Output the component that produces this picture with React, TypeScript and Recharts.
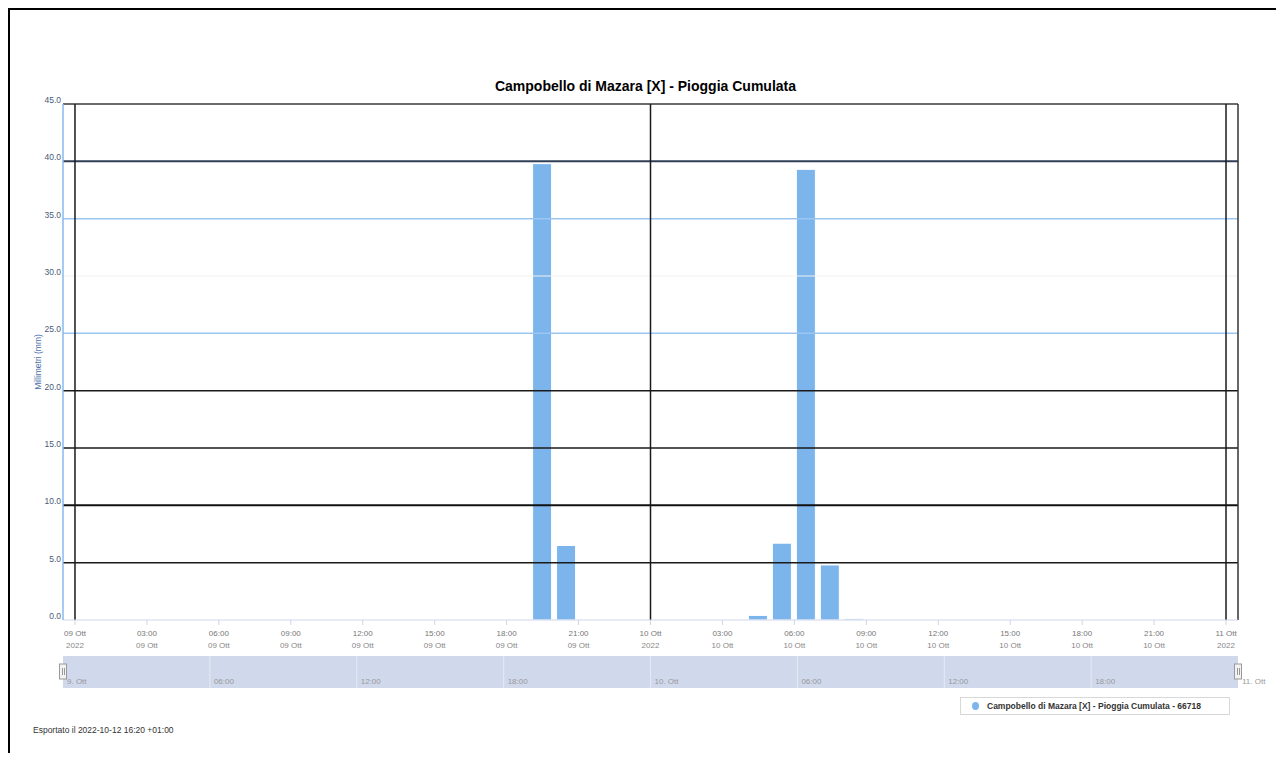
import React from 'react';
import {
  ComposedChart,
  Bar,
  Line,
  XAxis,
  YAxis,
  ReferenceLine,
  ReferenceArea,
  ReferenceDot,
} from 'recharts';

// ---- data ----
const chartTitle = 'Campobello di Mazara [X] - Pioggia Cumulata';
const seriesName = 'Campobello di Mazara [X] - Pioggia Cumulata - 66718';
const yAxisTitle = 'Millimetri (mm)';
const exportNote = 'Esportato il 2022-10-12 16:20 +01:00';

// hour offsets from 09 Ott 2022 00:00 (one bar per hour)
const hourStart = [
  0, 1, 2, 3, 4, 5, 6, 7, 8, 9, 10, 11, 12, 13, 14, 15, 16, 17, 18, 19, 20, 21, 22, 23,
  24, 25, 26, 27, 28, 29, 30, 31, 32, 33, 34, 35, 36, 37, 38, 39, 40, 41, 42, 43, 44, 45, 46, 47,
];
// cumulated rain (mm) per hour
const rainMm = [
  0, 0, 0, 0, 0, 0, 0, 0, 0, 0, 0, 0, 0, 0, 0, 0, 0, 0, 0, 39.8, 6.5, 0, 0, 0,
  0, 0, 0, 0, 0.4, 6.7, 39.3, 4.8, 0.1, 0, 0, 0, 0, 0, 0, 0, 0, 0, 0, 0, 0, 0, 0, 0,
];

const yTicks = [0, 5, 10, 15, 20, 25, 30, 35, 40, 45];
const xTicks = [0, 3, 6, 9, 12, 15, 18, 21, 24, 27, 30, 33, 36, 39, 42, 45, 48];
const xTickMain = [
  '09 Ott', '03:00', '06:00', '09:00', '12:00', '15:00', '18:00', '21:00',
  '10 Ott', '03:00', '06:00', '09:00', '12:00', '15:00', '18:00', '21:00', '11 Ott',
];
const xTickSub = [
  '2022', '09 Ott', '09 Ott', '09 Ott', '09 Ott', '09 Ott', '09 Ott', '09 Ott',
  '2022', '10 Ott', '10 Ott', '10 Ott', '10 Ott', '10 Ott', '10 Ott', '10 Ott', '2022',
];
const dayLines = [0, 24, 48];
const navTicks = [0, 6, 12, 18, 24, 30, 36, 42, 48];
const navLabels = ['9. Ott', '06:00', '12:00', '18:00', '10. Ott', '06:00', '12:00', '18:00', '11. Ott'];

const data = hourStart.map((h, i) => ({ x: h + 0.5, rain: rainMm[i] }));
const navData = hourStart.map((h) => ({ x: h + 0.5, v: 0.5 }));

// ---- styles ----
const FONT = '"Liberation Sans", Arial, Helvetica, sans-serif';
const BAR_COLOR = '#7cb5ec';
const gridStyle: Record<number, { stroke: string; width: number }> = {
  5: { stroke: '#1a1a1a', width: 1.5 },
  10: { stroke: '#111111', width: 2 },
  15: { stroke: '#1a1a1a', width: 1.5 },
  20: { stroke: '#1a1a1a', width: 1.5 },
  25: { stroke: '#9cc6f2', width: 1.5 },
  30: { stroke: '#f0f0f0', width: 1 },
  35: { stroke: '#9cc6f2', width: 1.5 },
  40: { stroke: '#2f3f55', width: 2 },
  45: { stroke: '#3a3a3a', width: 1.5 },
};

const XTick = (props: any) => {
  const { x, y, payload } = props;
  const idx = xTicks.indexOf(payload.value);
  if (idx < 0) return null;
  return (
    <g>
      <text x={x} y={y + 9} textAnchor="middle" fontSize={8} fill="#777" fontFamily={FONT}>
        {xTickMain[idx]}
      </text>
      <text x={x} y={y + 21} textAnchor="middle" fontSize={8} fill="#888" fontFamily={FONT}>
        {xTickSub[idx]}
      </text>
    </g>
  );
};

const Handle = (props: any) => {
  const { cx, cy } = props;
  return (
    <g>
      <rect x={cx - 3.5} y={cy - 8} width={7} height={15} fill="#f2f2f2" stroke="#999" strokeWidth={1} />
      <line x1={cx - 0.5} y1={cy - 4} x2={cx - 0.5} y2={cy + 3} stroke="#999" />
      <line x1={cx + 1.5} y1={cy - 4} x2={cx + 1.5} y2={cy + 3} stroke="#999" />
    </g>
  );
};

export default function App() {
  return (
    <div
      style={{
        position: 'relative',
        width: 1275,
        height: 745,
        borderTop: '2px solid #000',
        borderLeft: '2px solid #000',
        borderRight: '2px solid #000',
        boxSizing: 'border-box',
        background: '#fff',
        fontFamily: FONT,
      }}
    >
      <div
        style={{
          position: 'absolute',
          left: 0,
          top: 68,
          width: '100%',
          textAlign: 'center',
          fontSize: 14,
          lineHeight: '16px',
          fontWeight: 'bold',
          color: '#000',
        }}
      >
        {chartTitle}
      </div>

      <div style={{ position: 'absolute', left: 0, top: 0 }}>
        <ComposedChart
          width={1240}
          height={640}
          data={data}
          margin={{ top: 94, right: 12, left: 0, bottom: 0 }}
        >
          <XAxis
            type="number"
            dataKey="x"
            domain={[-0.5, 48.5]}
            ticks={xTicks}
            interval={0}
            height={30}
            tick={<XTick />}
            tickSize={5}
            tickLine={{ stroke: '#ccd6eb' }}
            axisLine={{ stroke: '#ccd6eb' }}
            allowDataOverflow
          />
          <YAxis
            type="number"
            domain={[0, 45]}
            ticks={yTicks}
            interval={0}
            width={53}
            tickLine={false}
            tickSize={0}
            tickMargin={2}
            axisLine={{ stroke: '#8ab8ee', strokeWidth: 1.5 }}
            tick={{ fontSize: 8.5, fill: '#4a5a7a', fontFamily: FONT, dy: -4 }}
            tickFormatter={(v: number) => v.toFixed(1)}
            label={{
              value: yAxisTitle,
              angle: -90,
              position: 'insideLeft',
              offset: 28,
              style: { fontSize: 8.5, fill: '#4a6ea8', fontFamily: FONT, textAnchor: 'middle' },
            }}
          />
          {yTicks
            .filter((t) => gridStyle[t])
            .map((t) => (
              <ReferenceLine
                key={'h' + t}
                y={t}
                stroke={gridStyle[t].stroke}
                strokeWidth={gridStyle[t].width}
              />
            ))}
          {dayLines.map((d) => (
            <ReferenceLine key={'d' + d} x={d} stroke="#1a1a1a" strokeWidth={1.5} />
          ))}
          <ReferenceLine x={48.5} stroke="#333" strokeWidth={1.5} />
          <Bar
            dataKey="rain"
            barSize={19}
            fill={BAR_COLOR}
            stroke="#ffffff"
            strokeWidth={1}
            isAnimationActive={false}
          />
        </ComposedChart>
      </div>

      <div style={{ position: 'absolute', left: 0, top: 640 }}>
        <ComposedChart
          width={1270}
          height={45}
          data={navData}
          margin={{ top: 6, right: 42, left: 53, bottom: 7 }}
        >
          <XAxis type="number" dataKey="x" domain={[0, 48]} hide />
          <YAxis type="number" domain={[0, 1]} hide width={0} />
          <ReferenceArea x1={0} x2={48} y1={0} y2={1} fill="#d0d8ec" fillOpacity={1} stroke="none" />
          {navTicks.map((t, i) => (
            <ReferenceLine
              key={'n' + t}
              x={t}
              stroke={i === 0 || i === navTicks.length - 1 ? 'none' : '#e6eaf4'}
              strokeWidth={1}
              label={{
                value: navLabels[i],
                position: 'insideBottomLeft',
                offset: 4,
                fontSize: 8,
                fill: '#999',
                fontFamily: FONT,
              }}
            />
          ))}
          <Line dataKey="v" stroke="none" dot={false} isAnimationActive={false} />
          <ReferenceDot x={0} y={0.5} r={4} shape={<Handle />} ifOverflow="visible" />
          <ReferenceDot x={48} y={0.5} r={4} shape={<Handle />} ifOverflow="visible" />
        </ComposedChart>
      </div>

      <div
        style={{
          position: 'absolute',
          left: 950,
          top: 687,
          width: 270,
          height: 18,
          border: '1px solid #d8d8d8',
          boxSizing: 'border-box',
          display: 'flex',
          alignItems: 'center',
          paddingLeft: 11,
          fontSize: 8.5,
          fontWeight: 'bold',
          color: '#333',
          whiteSpace: 'nowrap',
        }}
      >
        <span
          style={{
            display: 'inline-block',
            width: 7,
            height: 8,
            borderRadius: '50%',
            background: BAR_COLOR,
            marginRight: 8,
          }}
        />
        {seriesName}
      </div>

      <div
        style={{
          position: 'absolute',
          left: 23,
          top: 715,
          fontSize: 8.5,
          color: '#333',
          whiteSpace: 'nowrap',
        }}
      >
        {exportNote}
      </div>
    </div>
  );
}
